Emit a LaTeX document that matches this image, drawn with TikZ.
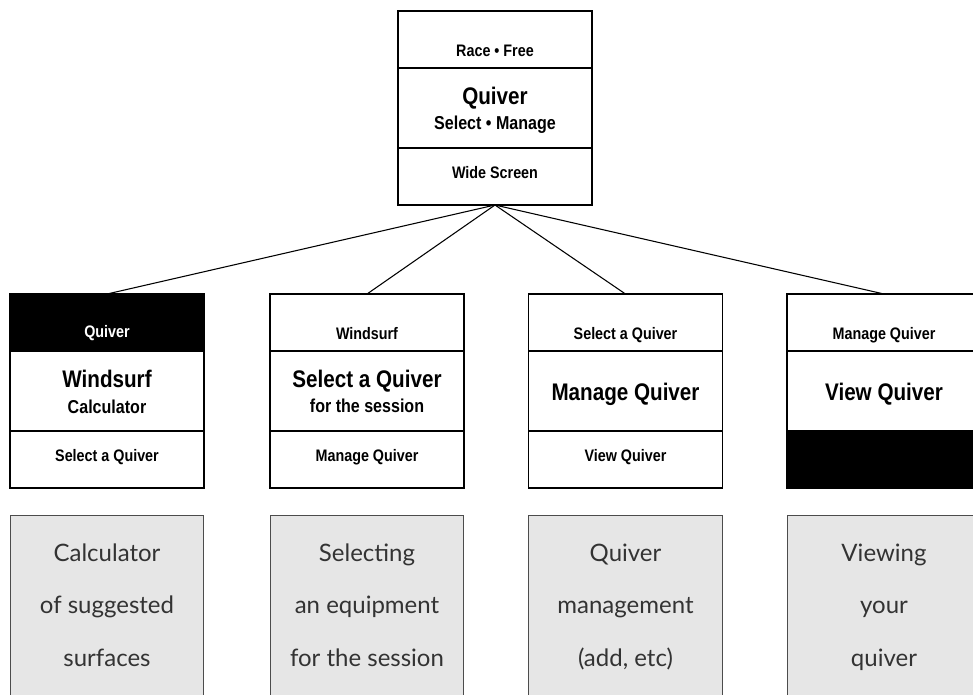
\documentclass[tikz,border=0pt]{standalone}
\usepackage{fontspec}
\newfontfamily\boxfont[FakeStretch=0.86]{Liberation Sans}
\newfontfamily\descfont{Lato}
\usepackage{xcolor}
\usepackage{tikz}
\usetikzlibrary{positioning}
\definecolor{descgray}{HTML}{E6E6E6}

\tikzset{
  sect/.style={draw, line width=0.8pt, minimum width=145.5pt, inner sep=0pt, outer sep=0pt},
  hd/.style={sect, minimum height=42.75pt},
  md/.style={sect, minimum height=60pt},
  small/.style={font=\boxfont\bfseries\fontsize{12.5}{14}\selectfont, anchor=base, inner sep=0pt},
  mid/.style={font=\boxfont\bfseries\fontsize{14}{16}\selectfont, anchor=base, inner sep=0pt},
  big/.style={font=\boxfont\bfseries\fontsize{18}{20}\selectfont, anchor=base, inner sep=0pt},
  desc/.style={draw=black!70, line width=0.6pt, fill=descgray, minimum width=145pt,
    minimum height=140pt, inner sep=0pt, align=center, text=black!80,
    font=\descfont\fontsize{18}{39.2}\selectfont,
    execute at begin node=\rule{0pt}{14pt},
    execute at end node=\rule[-5pt]{0pt}{5pt}}
}

\begin{document}
\begin{tikzpicture}[x=0.75pt, y=-0.75pt]
\useasboundingbox (0,0) rectangle (973,694);

% main screen
\node[hd] (top-hd) at (495,39.5) {};
\node[md, below=0pt of top-hd] (top-md) {};
\node[hd, below=0pt of top-md] (top-ft) {};
\node[small] (race) at (495,56) {Race • Free};
\node[big] (quiver) at (495,104) {Quiver};
\node[mid] (selman) at (495,129) {Select • Manage};
\node[small] (wide) at (495,178) {Wide Screen};

% windsurf calculator
\node[hd, fill=black] (c1-hd) at (107,322.5) {};
\node[md, below=0pt of c1-hd] (c1-md) {};
\node[hd, below=0pt of c1-md] (c1-ft) {};
\node[small, text=white] (c1-t1) at (107,337) {Quiver};
\node[big] (c1-t2) at (107,387) {Windsurf};
\node[mid] (c1-t3) at (107,413) {Calculator};
\node[small] (c1-t4) at (107,461) {Select a Quiver};

% select a quiver
\node[hd] (c2-hd) at (367,322.5) {};
\node[md, below=0pt of c2-hd] (c2-md) {};
\node[hd, below=0pt of c2-md] (c2-ft) {};
\node[small] (c2-t1) at (367,339) {Windsurf};
\node[big] (c2-t2) at (367,387) {Select a Quiver};
\node[mid] (c2-t3) at (367,412) {for the session};
\node[small] (c2-t4) at (367,461) {Manage Quiver};

% manage quiver
\node[hd] (c3-hd) at (625.5,322.5) {};
\node[md, below=0pt of c3-hd] (c3-md) {};
\node[hd, below=0pt of c3-md] (c3-ft) {};
\node[small] (c3-t1) at (625.5,339) {Select a Quiver};
\node[big] (c3-t2) at (625.5,400) {Manage Quiver};
\node[small] (c3-t4) at (625.5,461) {View Quiver};

% view quiver
\node[hd] (c4-hd) at (884,322.5) {};
\node[md, below=0pt of c4-hd] (c4-md) {};
\node[hd, fill=black, below=0pt of c4-md] (c4-ft) {};
\node[small] (c4-t1) at (884,339) {Manage Quiver};
\node[big] (c4-t2) at (884,400) {View Quiver};

% links
\draw[line width=0.8pt] (top-ft.south) -- (c1-hd.north);
\draw[line width=0.8pt] (top-ft.south) -- (c2-hd.north);
\draw[line width=0.8pt] (top-ft.south) -- (c3-hd.north);
\draw[line width=0.8pt] (top-ft.south) -- (c4-hd.north);

% descriptions
\node[desc] (d1) at (107,608.3) {Calculator\\of suggested\\surfaces};
\node[desc] (d2) at (367,608.3) {Selecting\\an equipment\\for the session};
\node[desc] (d3) at (625.5,608.3) {Quiver\\management\\(add, etc)};
\node[desc] (d4) at (884,608.3) {Viewing\\your\\quiver};
\end{tikzpicture}
\end{document}
